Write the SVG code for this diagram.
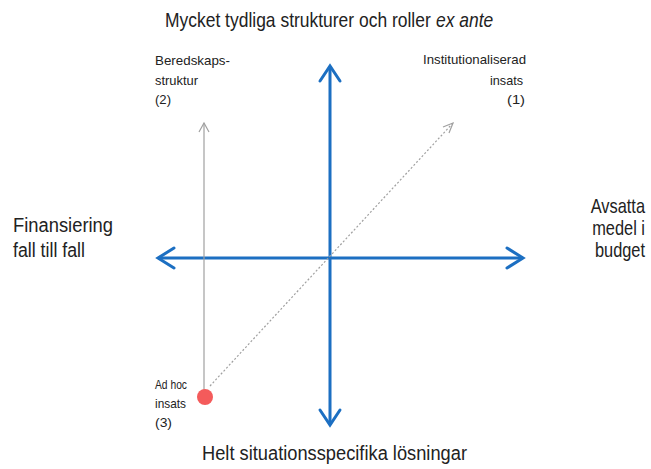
<svg xmlns="http://www.w3.org/2000/svg" width="651" height="469" viewBox="0 0 651 469">
<style>
.big{font-family:"Liberation Sans",Arial,sans-serif;font-size:20px;fill:#222}
.sm{font-family:"Liberation Sans",Arial,sans-serif;font-size:13.5px;fill:#222}
.axis{stroke:#1c6fc2;stroke-width:3;fill:none}
.ah{stroke:#1c6fc2;stroke-width:3;fill:none;stroke-linecap:round;stroke-linejoin:miter}
.grey{stroke:#a0a0a0;stroke-width:1.2;fill:none}
</style>
<rect width="651" height="469" fill="#fff"/>
<g id="connectors">
<line class="axis" x1="330" y1="66" x2="330" y2="425"/>
<polyline class="ah" points="320,81 330,66 340,81"/>
<polyline class="ah" points="320,410 330,425 340,410"/>
<line class="axis" x1="158" y1="258" x2="523" y2="258"/>
<polyline class="ah" points="174,248 158,258 174,268"/>
<polyline class="ah" points="507,248 523,258 507,268"/>
<line class="grey" x1="204" y1="390" x2="204" y2="123"/>
<polyline class="grey" points="199,132 204,123 209,132"/>
<line class="grey" x1="210" y1="386" x2="453" y2="123" stroke-dasharray="2,2"/>
<polyline class="grey" points="443,127 453,123 449,133"/>
</g>
<g id="node-top" transform="scale(0.873,1)">
<text class="big" x="189" y="27">Mycket tydliga strukturer och roller</text>
<text class="big" x="499.4" y="27" font-style="italic">ex ante</text>
</g>
<g id="node-bottom"><text class="big" x="202" y="460" textLength="265" lengthAdjust="spacingAndGlyphs">Helt situationsspecifika lösningar</text></g>
<g id="node-left">
<text class="big" x="13" y="232" textLength="100" lengthAdjust="spacingAndGlyphs">Finansiering</text>
<text class="big" x="13" y="257" textLength="72" lengthAdjust="spacingAndGlyphs">fall till fall</text>
</g>
<g id="node-right" transform="scale(0.82,1)">
<text class="big" x="786.6" y="213" text-anchor="end">Avsatta</text>
<text class="big" x="786.6" y="235" text-anchor="end">medel i</text>
<text class="big" x="786.6" y="257" text-anchor="end">budget</text>
</g>
<g id="node-2">
<text class="sm" x="155" y="65" textLength="75" lengthAdjust="spacingAndGlyphs">Beredskaps-</text>
<text class="sm" x="155" y="85" textLength="43" lengthAdjust="spacingAndGlyphs">struktur</text>
<text class="sm" x="155" y="104" textLength="16" lengthAdjust="spacingAndGlyphs">(2)</text>
</g>
<g id="node-1">
<text class="sm" x="423" y="64" textLength="103" lengthAdjust="spacingAndGlyphs">Institutionaliserad</text>
<text class="sm" x="490" y="85" textLength="33" lengthAdjust="spacingAndGlyphs">insats</text>
<text class="sm" x="507" y="104" textLength="18" lengthAdjust="spacingAndGlyphs">(1)</text>
</g>
<g id="node-3">
<circle cx="205" cy="397" r="8" fill="#f45b5b"/>
<text class="sm" x="155" y="389" textLength="32" lengthAdjust="spacingAndGlyphs">Ad hoc</text>
<text class="sm" x="155" y="408" textLength="31" lengthAdjust="spacingAndGlyphs">insats</text>
<text class="sm" x="155" y="427" textLength="17" lengthAdjust="spacingAndGlyphs">(3)</text>
</g>
</svg>
